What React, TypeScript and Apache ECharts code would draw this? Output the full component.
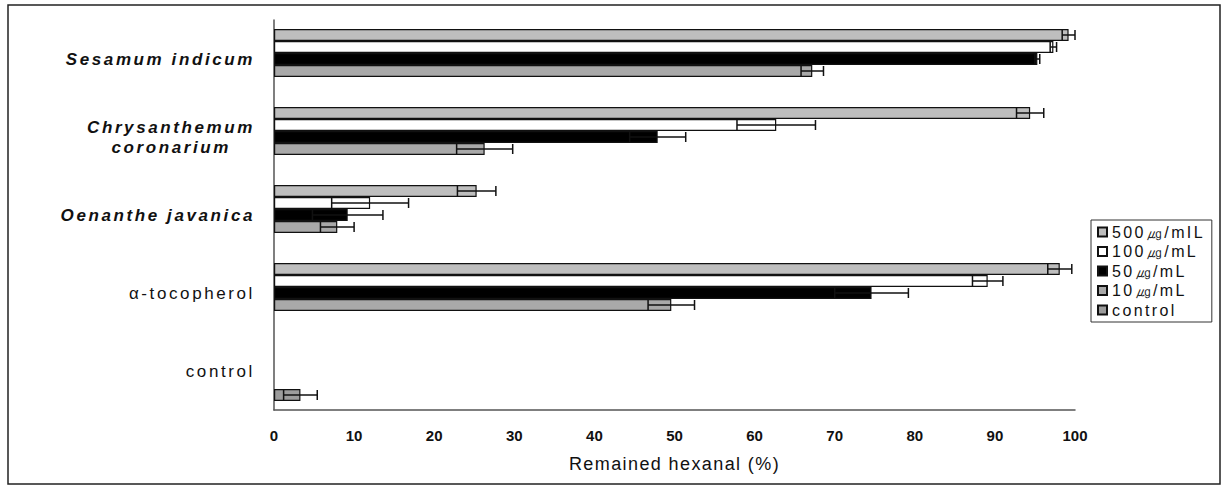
import React, { useEffect, useRef } from "react";
import * as echarts from "echarts";

const categories = [
  "Sesamum indicum",
  "Chrysanthemum coronarium",
  "Oenanthe javanica",
  "α-tocopherol",
  "control",
];
const seriesNames = ["500㎍/mIL", "100㎍/mL", "50㎍/mL", "10㎍/mL", "control"];

// values per series, category order as above ("-" = no bar)
const v500 = [99.2, 94.4, 25.3, 98.1, "-"];
const v100 = [97.3, 62.7, 12.0, 89.1, "-"];
const v50 = [95.3, 47.9, 9.2, 74.6, "-"];
const v10 = [67.2, 26.3, 7.9, 49.6, "-"];
const vControl = ["-", "-", "-", "-", 3.3];

// standard deviations
const e500 = [0.8, 1.7, 2.4, 1.5, 0];
const e100 = [0.4, 4.9, 4.8, 1.9, 0];
const e50 = [0.3, 3.5, 4.4, 4.6, 0];
const e10 = [1.4, 3.5, 2.1, 2.9, 0];
const eControl = [0, 0, 0, 0, 2.1];

const xTicks = [0, 10, 20, 30, 40, 50, 60, 70, 80, 90, 100];

const colors = ["#bebebe", "#ffffff", "#000000", "#a9a9a9", "#9c9c9c"];
const BAR_W = 12;

export default function App() {
  const ref = useRef<HTMLDivElement>(null);
  useEffect(() => {
    if (!ref.current) return;
    const chart = echarts.init(ref.current, undefined, { renderer: "svg" });
    const values = [v500, v100, v50, v10, vControl];
    const errs = [e500, e100, e50, e10, eControl];
    const errData: any[] = [];
    values.forEach((arr, k) => {
      arr.forEach((v, c) => {
        if (typeof v === "number") errData.push([c, v, errs[k][c], k]);
      });
    });
    const catStyle = {
      fontSize: 17,
      fontWeight: "bold",
      fontStyle: "italic",
      color: "#111",
      fontFamily: "Liberation Sans",
    };
    chart.setOption({
      animation: false,
      backgroundColor: "#fff",
      grid: { left: 274, right: 151, top: 20, bottom: 81 },
      xAxis: {
        type: "value",
        min: 0,
        max: 100,
        interval: 10,
        axisLine: { show: true, lineStyle: { color: "#555", width: 1.5 } },
        axisTick: { show: false },
        splitLine: { show: false },
        axisLabel: {
          margin: 18,
          fontSize: 15,
          fontWeight: "bold",
          color: "#111",
          fontFamily: "Liberation Sans",
          formatter: (v: number) => (xTicks.includes(v) ? String(v) : ""),
        },
        name: "Remained hexanal (%)",
        nameLocation: "middle",
        nameGap: 45,
        nameTextStyle: { fontSize: 18, color: "#111", fontFamily: "Liberation Sans" },
      },
      yAxis: {
        type: "category",
        data: categories,
        inverse: true,
        axisLine: { show: true, lineStyle: { color: "#555", width: 1.5 } },
        axisTick: { show: false },
        axisLabel: {
          margin: 19,
          ...catStyle,
          formatter: (v: string) => {
            if (v === "Chrysanthemum coronarium") return "{a|Chrysanthemum}\n{b|coronarium}";
            if (v === "α-tocopherol" || v === "control") return "{n|" + v + "}";
            return "{a|" + v + "}";
          },
          rich: {
            a: { ...catStyle, lineHeight: 20 },
            b: { ...catStyle, lineHeight: 20, padding: [0, 24, 0, 0] },
            n: { ...catStyle, fontStyle: "normal", fontWeight: "normal", lineHeight: 20 },
          },
        },
      },
      legend: {
        orient: "vertical",
        left: 1091,
        top: 220,
        data: seriesNames,
        icon: "rect",
        itemWidth: 9,
        itemHeight: 9,
        itemGap: 3.5,
        padding: [4, 26, 4, 6],
        borderColor: "#333",
        borderWidth: 1,
        textStyle: { fontSize: 16, color: "#111", fontFamily: "Liberation Sans", lineHeight: 16 },
      },
      series: [
        ...values.map((arr, k) => ({
          type: "bar",
          name: seriesNames[k],
          data: arr,
          barWidth: BAR_W,
          barGap: "0%",
          itemStyle: { color: colors[k], borderColor: "#111", borderWidth: 1.2 },
        })),
        {
          type: "custom",
          name: "err",
          data: errData,
          encode: { x: 1, y: 0 },
          z: 5,
          renderItem: (params: any, api: any) => {
            const cat = api.value(0);
            const v = api.value(1);
            const e = api.value(2);
            const k = api.value(3);
            const c = api.coord([v, cat]);
            const y = c[1] + (k - 2) * BAR_W;
            const x0 = api.coord([v - e, cat])[0];
            const x1 = api.coord([v + e, cat])[0];
            const h = BAR_W / 2 - 1;
            const st = { stroke: "#111", lineWidth: 1.5 };
            return {
              type: "group",
              children: [
                { type: "line", shape: { x1: x0, y1: y, x2: x1, y2: y }, style: st },
                { type: "line", shape: { x1: x0, y1: y - h, x2: x0, y2: y + h }, style: st },
                { type: "line", shape: { x1: x1, y1: y - h, x2: x1, y2: y + h }, style: st },
              ],
            };
          },
        },
      ],
      graphic: [
        {
          type: "rect",
          shape: { x: 8, y: 5, width: 1212, height: 479 },
          style: { fill: "none", stroke: "#222", lineWidth: 1.5 },
          silent: true,
          z: -1,
        },
      ],
    });
    return () => chart.dispose();
  }, []);
  return (
    <>
      <style>{`#chartbox text[style*="17px"]{letter-spacing:2.6px;}
#chartbox text[style*="18px"]{letter-spacing:1.4px;}
#chartbox text[style*="16px"]{letter-spacing:2.4px;}`}</style>
      <div
        id="chartbox"
        ref={ref}
        style={{ position: "fixed", left: 0, top: 0, width: 1226, height: 491, background: "#fff" }}
      />
    </>
  );
}
